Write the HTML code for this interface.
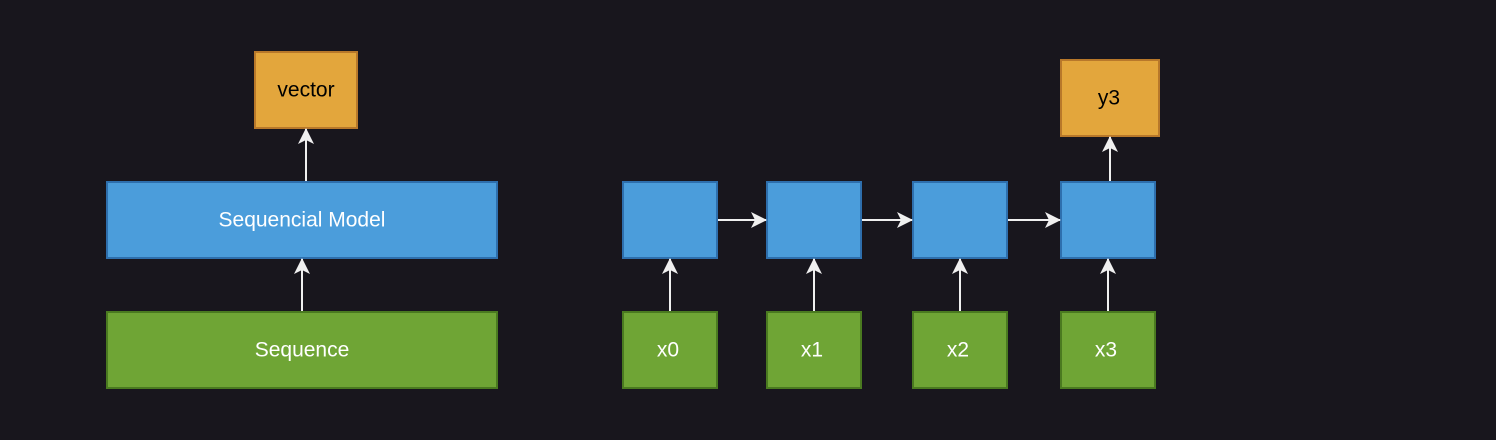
<!DOCTYPE html>
<html><head><meta charset="utf-8"><style>
html,body{margin:0;padding:0;background:#18161d;}
svg{display:block}
text{font-family:"Liberation Sans",Arial,sans-serif;font-size:21px;text-anchor:middle;dominant-baseline:central}
</style></head><body>
<svg width="1496" height="440" viewBox="0 0 1496 440">
<defs>
<marker id="ah" viewBox="0 0 16 16" refX="15" refY="8" markerWidth="16" markerHeight="16" markerUnits="userSpaceOnUse" orient="auto">
<path d="M0,0 L16,8 L0,16 L4,8 Z" fill="#f0f0f0"/></marker>
</defs>
<rect width="1496" height="440" fill="#18161d"/>
<g><rect x="107" y="312" width="390" height="76" fill="#6fa535" stroke="#4a7a20" stroke-width="2"/><text x="302" y="350" fill="#fff">Sequence</text></g>
<g><rect x="107" y="182" width="390" height="76" fill="#4b9ddb" stroke="#2e6fad" stroke-width="2"/><text x="302" y="220" fill="#fff">Sequencial Model</text></g>
<g><rect x="255" y="52" width="102" height="76" fill="#e3a63c" stroke="#b8782a" stroke-width="2"/><text x="306" y="90" fill="#000">vector</text></g>
<line x1="302" y1="311" x2="302" y2="259" stroke="#f0f0f0" stroke-width="2" marker-end="url(#ah)"/>
<line x1="306" y1="181" x2="306" y2="129" stroke="#f0f0f0" stroke-width="2" marker-end="url(#ah)"/>
<g><rect x="623" y="182" width="94" height="76" fill="#4b9ddb" stroke="#2e6fad" stroke-width="2"/></g>
<g><rect x="767" y="182" width="94" height="76" fill="#4b9ddb" stroke="#2e6fad" stroke-width="2"/></g>
<g><rect x="913" y="182" width="94" height="76" fill="#4b9ddb" stroke="#2e6fad" stroke-width="2"/></g>
<g><rect x="1061" y="182" width="94" height="76" fill="#4b9ddb" stroke="#2e6fad" stroke-width="2"/></g>
<g><rect x="623" y="312" width="94" height="76" fill="#6fa535" stroke="#4a7a20" stroke-width="2"/><text x="668" y="350" fill="#fff">x0</text></g>
<g><rect x="767" y="312" width="94" height="76" fill="#6fa535" stroke="#4a7a20" stroke-width="2"/><text x="812" y="350" fill="#fff">x1</text></g>
<g><rect x="913" y="312" width="94" height="76" fill="#6fa535" stroke="#4a7a20" stroke-width="2"/><text x="958" y="350" fill="#fff">x2</text></g>
<g><rect x="1061" y="312" width="94" height="76" fill="#6fa535" stroke="#4a7a20" stroke-width="2"/><text x="1106" y="350" fill="#fff">x3</text></g>
<g><rect x="1061" y="60" width="98" height="76" fill="#e3a63c" stroke="#b8782a" stroke-width="2"/><text x="1109" y="98" fill="#000">y3</text></g>
<line x1="670" y1="311" x2="670" y2="259" stroke="#f0f0f0" stroke-width="2" marker-end="url(#ah)"/>
<line x1="814" y1="311" x2="814" y2="259" stroke="#f0f0f0" stroke-width="2" marker-end="url(#ah)"/>
<line x1="960" y1="311" x2="960" y2="259" stroke="#f0f0f0" stroke-width="2" marker-end="url(#ah)"/>
<line x1="1108" y1="311" x2="1108" y2="259" stroke="#f0f0f0" stroke-width="2" marker-end="url(#ah)"/>
<line x1="1110" y1="181" x2="1110" y2="137" stroke="#f0f0f0" stroke-width="2" marker-end="url(#ah)"/>
<line x1="718" y1="220" x2="766" y2="220" stroke="#f0f0f0" stroke-width="2" marker-end="url(#ah)"/>
<line x1="862" y1="220" x2="912" y2="220" stroke="#f0f0f0" stroke-width="2" marker-end="url(#ah)"/>
<line x1="1008" y1="220" x2="1060" y2="220" stroke="#f0f0f0" stroke-width="2" marker-end="url(#ah)"/>
</svg>
</body></html>
